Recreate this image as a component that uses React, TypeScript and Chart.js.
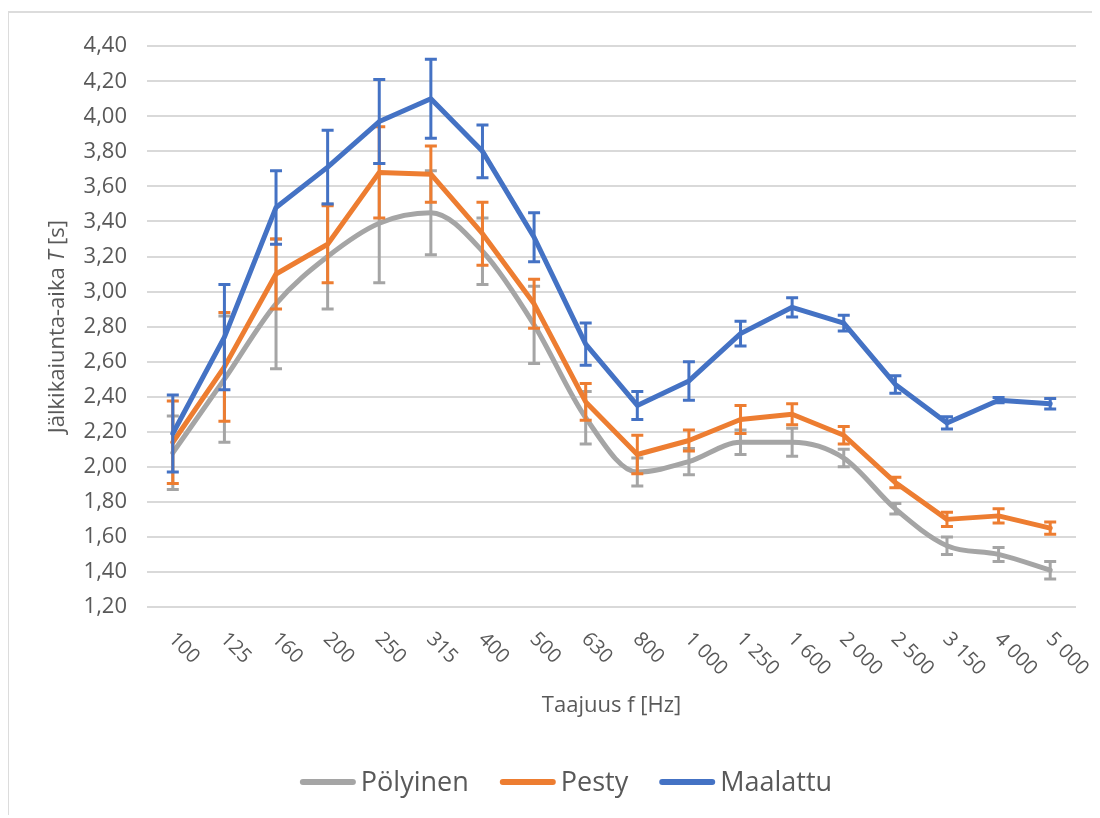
import React, { useEffect, useRef } from 'react';
import { Chart, registerables } from 'chart.js';

Chart.register(...registerables);

const categories = ['100', '125', '160', '200', '250', '315', '400', '500', '630', '800', '1 000', '1 250', '1 600', '2 000', '2 500', '3 150', '4 000', '5 000'];

const polyinen = [2.08, 2.50, 2.93, 3.20, 3.39, 3.45, 3.23, 2.81, 2.28, 1.97, 2.03, 2.14, 2.14, 2.05, 1.76, 1.55, 1.50, 1.41];
const polyinenErr = [0.21, 0.36, 0.37, 0.30, 0.34, 0.24, 0.19, 0.22, 0.15, 0.08, 0.075, 0.07, 0.08, 0.05, 0.03, 0.05, 0.04, 0.05];

const pesty = [2.14, 2.57, 3.10, 3.27, 3.68, 3.67, 3.33, 2.93, 2.37, 2.07, 2.15, 2.27, 2.30, 2.18, 1.91, 1.70, 1.72, 1.65];
const pestyErr = [0.235, 0.31, 0.20, 0.22, 0.26, 0.16, 0.18, 0.14, 0.105, 0.11, 0.06, 0.08, 0.06, 0.05, 0.03, 0.04, 0.04, 0.035];

const maalattu = [2.19, 2.74, 3.48, 3.71, 3.97, 4.10, 3.80, 3.31, 2.70, 2.35, 2.49, 2.76, 2.91, 2.82, 2.47, 2.25, 2.38, 2.36];
const maalattuErr = [0.22, 0.30, 0.21, 0.21, 0.24, 0.225, 0.15, 0.14, 0.12, 0.08, 0.11, 0.07, 0.055, 0.045, 0.05, 0.035, 0.015, 0.03];

const seriesNames = ['Pölyinen', 'Pesty', 'Maalattu'];
const seriesColors = ['#A5A5A5', '#ED7D31', '#4472C4'];

const yMin = 1.2;
const yMax = 4.4;
const yStep = 0.2;

const xTitle = 'Taajuus f [Hz]';
const yTitleParts = ['Jälkikaiunta-aika ', 'T', ' [s]'];

const TEXT = '#595959';
const GRID = '#d9d9d9';
const FONT = "'Open Sans', sans-serif";

const errorBarPlugin = {
  id: 'errorBars',
  afterDatasetDraw(chart: any, args: any) {
    const ds = chart.data.datasets[args.index];
    const errs = ds.errors;
    if (!errs) return;
    const y = chart.scales.y;
    const ctx = chart.ctx;
    ctx.save();
    ctx.strokeStyle = ds.borderColor;
    ctx.lineWidth = 3;
    ctx.lineCap = 'butt';
    args.meta.data.forEach((pt: any, i: number) => {
      const v = ds.data[i];
      const e = errs[i];
      const top = y.getPixelForValue(v + e);
      const bot = y.getPixelForValue(v - e);
      const x = pt.x;
      ctx.beginPath();
      ctx.moveTo(x, top);
      ctx.lineTo(x, bot);
      ctx.moveTo(x - 6, top);
      ctx.lineTo(x + 6, top);
      ctx.moveTo(x - 6, bot);
      ctx.lineTo(x + 6, bot);
      ctx.stroke();
    });
    ctx.restore();
  },
};

const decorPlugin = {
  id: 'decor',
  afterDraw(chart: any) {
    const ctx = chart.ctx;
    const area = chart.chartArea;
    const xs = chart.scales.x;

    // rotated x tick labels (clockwise)
    ctx.save();
    ctx.fillStyle = TEXT;
    ctx.font = `20px ${FONT}`;
    ctx.textAlign = 'left';
    ctx.textBaseline = 'middle';
    categories.forEach((lab, i) => {
      const x = xs.getPixelForTick(i);
      ctx.save();
      ctx.translate(x - 1, area.bottom + 29);
      ctx.rotate(Math.PI / 4);
      ctx.fillText(lab, 0, 0);
      ctx.restore();
    });
    ctx.restore();

    // y title with italic T
    ctx.save();
    ctx.fillStyle = TEXT;
    ctx.textBaseline = 'middle';
    ctx.textAlign = 'left';
    const cy = (area.top + area.bottom) / 2;
    ctx.translate(49, cy);
    ctx.rotate(-Math.PI / 2);
    const fonts = [`22px ${FONT}`, `italic 22px ${FONT}`, `22px ${FONT}`];
    const widths = yTitleParts.map((p, i) => {
      ctx.font = fonts[i];
      return ctx.measureText(p).width;
    });
    const total = widths.reduce((a, b) => a + b, 0);
    let cx = -total / 2;
    yTitleParts.forEach((p, i) => {
      ctx.font = fonts[i];
      ctx.fillText(p, cx, 0);
      cx += widths[i];
    });
    ctx.restore();

    // legend
    ctx.save();
    ctx.font = `27px ${FONT}`;
    ctx.textBaseline = 'middle';
    ctx.textAlign = 'left';
    const lineLen = 56;
    const gapText = 5;
    const gapItem = 31;
    const tw = seriesNames.map((n) => ctx.measureText(n).width);
    const itemsW = tw.reduce((a, w) => a + lineLen + gapText + w, 0) + gapItem * (seriesNames.length - 1);
    let lx = 557 - itemsW / 2;
    const ly = 769;
    seriesNames.forEach((n, i) => {
      ctx.strokeStyle = seriesColors[i];
      ctx.lineWidth = 6;
      ctx.lineCap = 'round';
      ctx.beginPath();
      ctx.moveTo(lx + 3, ly);
      ctx.lineTo(lx + lineLen - 3, ly);
      ctx.stroke();
      ctx.fillStyle = TEXT;
      ctx.fillText(n, lx + lineLen + gapText, ly + 1);
      lx += lineLen + gapText + tw[i] + gapItem;
    });
    ctx.restore();
  },
};

export default function App() {
  const ref = useRef<HTMLCanvasElement | null>(null);

  useEffect(() => {
    if (!ref.current) return;
    Chart.defaults.font.family = FONT;
    const values = [polyinen, pesty, maalattu];
    const errors = [polyinenErr, pestyErr, maalattuErr];
    const chart = new Chart(ref.current, {
      type: 'line',
      data: {
        labels: categories,
        datasets: seriesNames.map((name, i) => ({
          label: name,
          data: values[i],
          errors: errors[i],
          borderColor: seriesColors[i],
          backgroundColor: seriesColors[i],
          borderWidth: 5,
          pointRadius: 0,
          pointHoverRadius: 0,
          tension: i === 0 ? 0.4 : 0,
          cubicInterpolationMode: i === 0 ? 'monotone' : 'default',
          borderJoinStyle: 'round',
          borderCapStyle: 'round',
          fill: false,
          order: 3 - i,
        })) as any,
      },
      options: {
        responsive: false,
        maintainAspectRatio: false,
        animation: false,
        events: [],
        layout: { padding: { top: 29, right: 23, left: 0, bottom: 81 } },
        plugins: {
          legend: { display: false },
          tooltip: { enabled: false },
        },
        scales: {
          x: {
            type: 'category',
            offset: true,
            grid: { display: false },
            border: { display: false },
            ticks: { display: false },
            title: {
              display: true,
              text: xTitle,
              color: TEXT,
              font: { size: 22, family: FONT },
              padding: { top: 0, bottom: 18 },
            },
            afterFit: (s: any) => {
              s.height = 130;
            },
          },
          y: {
            min: yMin,
            max: yMax,
            grid: { color: GRID, lineWidth: 2, drawTicks: false },
            border: { display: false },
            ticks: {
              stepSize: yStep,
              color: TEXT,
              padding: 20,
              font: { size: 22, family: FONT },
              callback: (v: any) => Number(v).toFixed(2).replace('.', ','),
            },
            afterFit: (s: any) => {
              s.width = 138;
            },
          },
        },
      },
      plugins: [errorBarPlugin, decorPlugin],
    });
    return () => chart.destroy();
  }, []);

  return (
    <div
      style={{
        position: 'relative',
        left: -1,
        top: 3,
        width: 1093,
        height: 807,
        borderLeft: '2px solid #dcdcdc',
        borderTop: '2px solid #dcdcdc',
        boxSizing: 'border-box',
        overflow: 'hidden',
        background: '#fff',
      }}
    >
      <canvas ref={ref} width={1090} height={805} style={{ display: 'block', width: 1090, height: 805 }} />
    </div>
  );
}
